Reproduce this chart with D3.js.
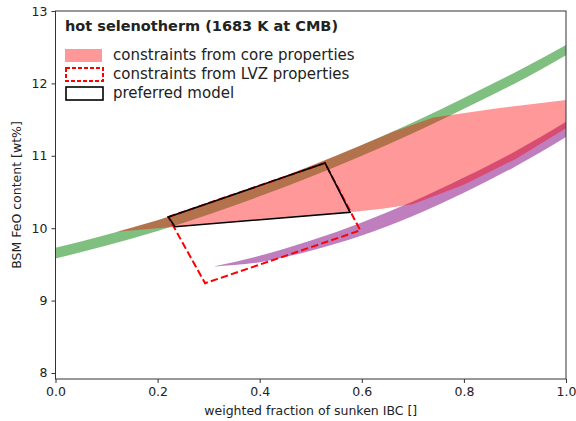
<!DOCTYPE html>
<html>
<head>
<meta charset="utf-8">
<script src="https://cdn.jsdelivr.net/npm/d3@7"></script>
<style>
  body { margin: 0; background: #fff; }
  text { font-family: "DejaVu Sans", sans-serif; fill: #222; }
</style>
</head>
<body>
<script>
// band x positions
const bandX = [0, 0.1, 0.2, 0.3, 0.4, 0.5, 0.6, 0.7, 0.8, 0.9, 1.0];
// green band (lower / upper edge)
const greenLow  = [9.58, 9.76, 9.96, 10.19, 10.44, 10.71, 11.0, 11.31, 11.65, 12.0, 12.39];
const greenHigh = [9.73, 9.91, 10.11, 10.34, 10.59, 10.86, 11.15, 11.46, 11.8, 12.15, 12.53];

// purple band
const purpleX    = [0.309, 0.4, 0.5, 0.6, 0.7, 0.8, 0.9, 1.0];
const purpleLow  = [9.47, 9.53, 9.69, 9.9, 10.17, 10.49, 10.85, 11.26];
const purpleHigh = [9.47, 9.62, 9.83, 10.08, 10.37, 10.70, 11.06, 11.47];

// constraints from core properties (outline, clockwise)
const coreX = [0.12, 0.2, 0.3, 0.4, 0.5, 0.6, 0.66, 0.74, 0.87, 1.0,
               1.0, 0.9, 0.8, 0.7, 0.64, 0.577, 0.234];
const coreY = [9.95, 10.11, 10.34, 10.59, 10.86, 11.15, 11.33, 11.53, 11.66, 11.77,
               11.38, 10.95, 10.6, 10.33, 10.27, 10.22, 10.02];

// constraints from LVZ properties
const lvzX = [0.221, 0.528, 0.597, 0.293];
const lvzY = [10.155, 10.90, 9.97, 9.24];

// preferred model
const prefX = [0.221, 0.528, 0.577, 0.234];
const prefY = [10.155, 10.90, 10.22, 10.02];

const xTicks = [0, 0.2, 0.4, 0.6, 0.8, 1.0];
const yTicks = [8, 9, 10, 11, 12, 13];

const legendLabels = ["constraints from core properties", "constraints from LVZ properties", "preferred model"];

const W = 576, H = 421;
const margin = {top: 11, right: 10, bottom: 42, left: 55.5};

const svg = d3.select("body").append("svg")
    .attr("width", W).attr("height", H);

const x = d3.scaleLinear().domain([0, 1]).range([margin.left, W - margin.right]);
const y = d3.scaleLinear().domain([7.917, 13]).range([H - margin.bottom, margin.top]);

// clip to axes
svg.append("clipPath").attr("id", "clip")
  .append("rect")
    .attr("x", x(0)).attr("y", y(13))
    .attr("width", x(1) - x(0)).attr("height", y(7.917) - y(13));

const plot = svg.append("g").attr("clip-path", "url(#clip)");

const band = (xs, lo, hi) => d3.area()
    .x((d, i) => x(xs[i]))
    .y0((d, i) => y(lo[i]))
    .y1((d, i) => y(hi[i]))
    .curve(d3.curveMonotoneX)(xs);

// green band
plot.append("path")
    .attr("d", band(bandX, greenLow, greenHigh))
    .attr("fill", "green").attr("fill-opacity", 0.5);

// purple band
plot.append("path")
    .attr("d", band(purpleX, purpleLow, purpleHigh))
    .attr("fill", "purple").attr("fill-opacity", 0.5);

const poly = (xs, ys) => "M" + xs.map((v, i) => x(v) + "," + y(ys[i])).join("L") + "Z";

// core constraints
plot.append("path")
    .attr("d", poly(coreX, coreY))
    .attr("fill", "red").attr("fill-opacity", 0.4);

// LVZ constraints
plot.append("path")
    .attr("d", poly(lvzX, lvzY))
    .attr("fill", "none").attr("stroke", "red")
    .attr("stroke-width", 2).attr("stroke-dasharray", "7.4,3.2");

// preferred model
plot.append("path")
    .attr("d", poly(prefX, prefY))
    .attr("fill", "none").attr("stroke", "black")
    .attr("stroke-width", 1.6).attr("stroke-linejoin", "miter");

// axes
const xAxis = svg.append("g")
    .attr("transform", `translate(0,${y(7.917)})`)
    .call(d3.axisBottom(x).tickValues(xTicks).tickFormat(d3.format(".1f")).tickSize(4).tickPadding(4));
const yAxis = svg.append("g")
    .attr("transform", `translate(${x(0)},0)`)
    .call(d3.axisLeft(y).tickValues(yTicks).tickFormat(d3.format("d")).tickSize(4).tickPadding(4));
[xAxis, yAxis].forEach(g => {
  g.select(".domain").remove();
  g.selectAll("line").attr("stroke", "#333");
  g.selectAll("text").style("font-size", "12.5px").attr("fill", "#222");
});

// frame
svg.append("rect")
    .attr("x", x(0)).attr("y", y(13))
    .attr("width", x(1) - x(0)).attr("height", y(7.917) - y(13))
    .attr("fill", "none").attr("stroke", "#333").attr("stroke-width", 1);

// axis labels
svg.append("text")
    .attr("x", (x(0) + x(1)) / 2).attr("y", 415)
    .attr("text-anchor", "middle").style("font-size", "12.5px")
    .text("weighted fraction of sunken IBC []");
svg.append("text")
    .attr("transform", `translate(21,${(y(13) + y(7.917)) / 2}) rotate(-90)`)
    .attr("text-anchor", "middle").style("font-size", "12.5px")
    .text("BSM FeO content [wt%]");

// legend
svg.append("text")
    .attr("x", 65).attr("y", 31)
    .style("font-size", "14.5px").style("font-weight", "bold")
    .text("hot selenotherm (1683 K at CMB)");

const leg = svg.append("g");
leg.append("rect").attr("x", 65).attr("y", 49).attr("width", 37).attr("height", 13)
    .attr("fill", "red").attr("fill-opacity", 0.4);
leg.append("rect").attr("x", 66).attr("y", 68).attr("width", 37).attr("height", 13)
    .attr("fill", "none").attr("stroke", "red").attr("stroke-width", 2)
    .attr("stroke-dasharray", "4,2");
leg.append("rect").attr("x", 66).attr("y", 87).attr("width", 37).attr("height", 13)
    .attr("fill", "none").attr("stroke", "black").attr("stroke-width", 1.6);
leg.selectAll(".lbl")
  .data(legendLabels)
  .enter()
  .append("text")
    .attr("class", "lbl")
    .attr("x", 113)
    .attr("y", (d, i) => 60 + i * 19)
    .style("font-size", "15px")
    .text(d => d);
</script>
</body>
</html>
